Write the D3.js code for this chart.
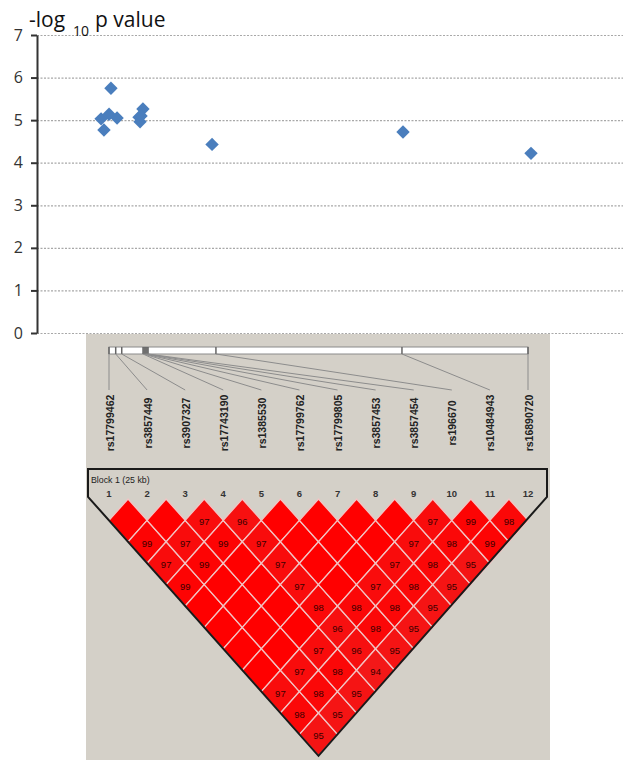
<!DOCTYPE html>
<html lang="en">
<head>
  <meta charset="UTF-8" />
  <title>-log10 p value and LD block</title>
  <script src="https://d3js.org/d3.v7.min.js"></script>
  <style>
    body { margin: 0; background: #fff; }
    svg { display: block; }
  </style>
</head>
<body>
  <div id="chart"></div>
  <script>
    const width = 623, height = 760;

    // SNPs of the block, with their position on the gene map (kb from first SNP)
    const snpNames = ["rs17799462", "rs3857449", "rs3907327", "rs17743190", "rs1385530", "rs17799762",
                      "rs17799805", "rs3857453", "rs3857454", "rs196670", "rs10484943", "rs16890720"];
    const snpKb = [0, 0.40, 0.76, 2.03, 2.09, 2.15, 2.21, 2.27, 2.33, 6.38, 17.48, 25.0];

    // association points (position in kb, -log10 p)
    const pointKb   = [-0.26, -0.09, 0.21, 0.32, 0.68, 1.97, 2.20, 2.03, 2.09, 6.26, 17.48, 25.0];
    const pointLogP = [5.03, 4.77, 5.14, 5.75, 5.05, 5.07, 5.26, 4.96, 5.10, 4.43, 4.72, 4.22];

    const yTicks = [0, 1, 2, 3, 4, 5, 6, 7];

    // pairwise D' (x100) as [i, j, value]; pairs not listed are D' = 1 (no number shown)
    const dprime = [
      [3, 4, 97], [4, 5, 96], [9, 10, 97], [10, 11, 99], [11, 12, 98],
      [1, 3, 99], [2, 4, 97], [3, 5, 99], [4, 6, 97], [8, 10, 97], [9, 11, 98], [10, 12, 99],
      [1, 4, 97], [2, 5, 99], [4, 7, 97], [7, 10, 97], [8, 11, 98], [9, 12, 95],
      [1, 5, 99], [4, 8, 97], [6, 10, 97], [7, 11, 98], [8, 12, 95],
      [4, 9, 98], [5, 10, 98], [6, 11, 98], [7, 12, 95],
      [4, 10, 96], [5, 11, 98], [6, 12, 95],
      [3, 10, 97], [4, 11, 96], [5, 12, 95],
      [2, 10, 97], [3, 11, 98], [4, 12, 94],
      [1, 10, 97], [2, 11, 98], [3, 12, 95],
      [1, 11, 98], [2, 12, 95],
      [1, 12, 95]
    ];

    const svg = d3.select('#chart').append('svg')
      .attr('width', width).attr('height', height)
      .attr('viewBox', `0 0 ${width} ${height}`);

    // ---------- top scatter ----------
    const y = d3.scaleLinear().domain([0, 7]).range([333, 35]);
    const xPts = d3.scaleLinear().domain([0, 25]).range([105.5, 531]);
    const axisX = 37;

    // dotted gridlines
    svg.append('g').selectAll('line').data(yTicks).join('line')
      .attr('x1', axisX).attr('x2', width)
      .attr('y1', d => y(d) + 0.5).attr('y2', d => y(d) + 0.5)
      .attr('stroke', '#a8a8a8').attr('stroke-width', 1.2)
      .attr('stroke-dasharray', '2,1.5');

    const yAxis = svg.append('g')
      .attr('transform', `translate(${axisX},0)`)
      .call(d3.axisLeft(y).tickValues(yTicks).tickFormat(d3.format('d'))
        .tickSize(6).tickSizeOuter(0).tickPadding(8));
    yAxis.attr('font-family', '"Open Sans", sans-serif').attr('font-size', 16);
    yAxis.selectAll('.tick text').attr('fill', '#333');
    yAxis.select('.domain').attr('stroke', '#333').attr('stroke-width', 2);
    yAxis.selectAll('.tick line').attr('stroke', '#333').attr('stroke-width', 2);

    // axis title
    const title = svg.append('g').attr('font-family', '"Open Sans", sans-serif').attr('fill', '#111');
    title.append('text').attr('x', 29).attr('y', 27).attr('font-size', 21).text('-log');
    title.append('text').attr('x', 73).attr('y', 36).attr('font-size', 14).text('10');
    title.append('text').attr('x', 95).attr('y', 27).attr('font-size', 21).text('p value');

    const diamond = d3.symbol().type(d3.symbolSquare).size(90);
    svg.append('g').selectAll('path').data(pointKb.map((k, i) => [k, pointLogP[i]])).join('path')
      .attr('d', diamond)
      .attr('transform', d => `translate(${xPts(d[0])},${y(d[1])}) rotate(45)`)
      .attr('fill', '#4a7ebd');

    // ---------- Haploview panel ----------
    svg.append('rect').attr('x', 86).attr('y', 334).attr('width', 464).attr('height', height - 334)
      .attr('fill', '#d4d0c8');

    const xMap = d3.scaleLinear().domain([0, 25]).range([109, 528]);
    const xCol = d3.scalePoint().domain(d3.range(1, 13)).range([109, 528]);
    const barTop = 347, barBot = 354, lineEnd = 390;

    svg.append('rect').attr('x', xMap(0)).attr('y', barTop)
      .attr('width', xMap(25) - xMap(0)).attr('height', barBot - barTop)
      .attr('fill', '#fff').attr('stroke', '#8a8a8a').attr('stroke-width', 1);

    svg.append('g').selectAll('line').data(snpKb).join('line')
      .attr('x1', d => xMap(d)).attr('x2', d => xMap(d))
      .attr('y1', barTop).attr('y2', barBot)
      .attr('stroke', '#666').attr('stroke-width', 1.5);

    // connectors from map to names
    svg.append('g').selectAll('line').data(snpKb).join('line')
      .attr('x1', d => xMap(d)).attr('y1', barBot)
      .attr('x2', (d, i) => xCol(i + 1)).attr('y2', lineEnd)
      .attr('stroke', '#8c8c8c').attr('stroke-width', 1);

    svg.append('g').selectAll('text').data(snpNames).join('text')
      .attr('transform', (d, i) => `translate(${xCol(i + 1) + 0.5},423) rotate(-90)`)
      .attr('text-anchor', 'middle').attr('dominant-baseline', 'central')
      .attr('font-family', '"Liberation Sans", Arial, sans-serif')
      .attr('font-weight', 'bold').attr('font-size', 10.5).attr('fill', '#222')
      .text(d => d);

    // LD triangle
    const w = xCol.step() / 2, h = 21.4, topY = 499;
    const cells = [];
    for (let i = 1; i <= 12; i++) {
      for (let j = i + 1; j <= 12; j++) {
        const hit = dprime.find(d => d[0] === i && d[1] === j);
        cells.push({ i, j, v: hit ? hit[2] : 100 });
      }
    }
    const cx = d => (xCol(d.i) + xCol(d.j)) / 2;
    const cy = d => topY + h * (d.j - d.i);
    const cellColor = v => d3.rgb(255 - (100 - v) * 2, (100 - v) * 4, (100 - v) * 4);

    svg.append('g').selectAll('path').data(cells).join('path')
      .attr('d', d => `M${cx(d)},${cy(d) - h}L${cx(d) + w},${cy(d)}L${cx(d)},${cy(d) + h}L${cx(d) - w},${cy(d)}Z`)
      .attr('fill', d => cellColor(d.v))
      .attr('stroke', '#f2c4c4').attr('stroke-width', 1.3);

    svg.append('g').selectAll('text').data(cells.filter(d => d.v < 100)).join('text')
      .attr('x', cx).attr('y', d => cy(d) + 1.5)
      .attr('text-anchor', 'middle').attr('dominant-baseline', 'central')
      .attr('font-family', '"Liberation Sans", Arial, sans-serif')
      .attr('font-size', 9.5).attr('fill', '#3a0000')
      .text(d => d.v);

    // block outline
    const leftX = 88, rightX = 547;
    const apexX = (xCol(1) + xCol(12)) / 2, apexY = topY + 12 * h;
    const sideY = topY + h - (xCol(1) - leftX) * h / w;
    svg.append('path')
      .attr('d', `M${leftX},${sideY}L${leftX},469L${rightX},469L${rightX},${sideY}L${apexX},${apexY}Z`)
      .attr('fill', 'none').attr('stroke', '#1a1a1a').attr('stroke-width', 2);

    svg.append('text').attr('x', 91).attr('y', 483)
      .attr('font-family', '"Liberation Sans", Arial, sans-serif')
      .attr('font-size', 8.8).attr('fill', '#222').text('Block 1 (25 kb)');

    svg.append('g').selectAll('text').data(d3.range(1, 13)).join('text')
      .attr('x', d => xCol(d)).attr('y', 497)
      .attr('text-anchor', 'middle')
      .attr('font-family', '"Liberation Sans", Arial, sans-serif')
      .attr('font-weight', 'bold').attr('font-size', 9.5).attr('fill', '#333')
      .text(d => d);
  </script>
</body>
</html>
